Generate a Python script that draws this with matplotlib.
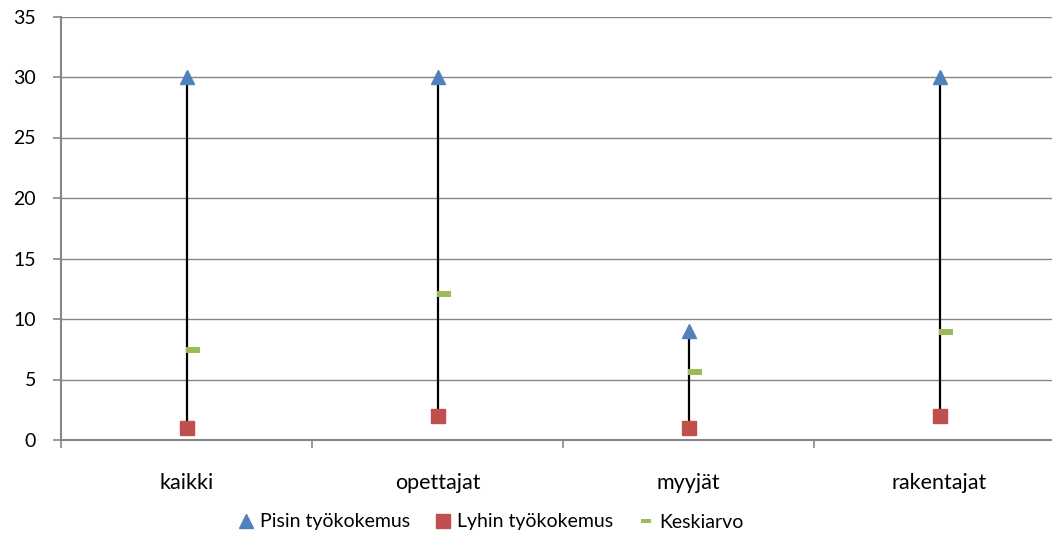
import matplotlib
matplotlib.use("Agg")
import matplotlib.pyplot as plt
from matplotlib.lines import Line2D

# data
categories = ["kaikki", "opettajat", "myyjät", "rakentajat"]
pisin = [30, 30, 9, 30]
lyhin = [1, 2, 1, 2]
keskiarvo = [7.4, 12.1, 5.6, 8.9]

plt.rcParams['font.family'] = ['Lato', 'DejaVu Sans']

fig = plt.figure(figsize=(10.52, 5.37), dpi=100)
ax = fig.add_axes([61 / 1052, 1 - 440 / 537, 1004 / 1052, (440 - 16.5) / 537])

x = list(range(len(categories)))
grey = '#868686'

# vertical high-low lines
for xi, hi, lo in zip(x, pisin, lyhin):
    ax.plot([xi, xi], [lo, hi], color='black', lw=1.6, zorder=2)

dash = [(-0.1, -0.25), (1, -0.25), (1, 0.25), (-0.1, 0.25), (-0.1, -0.25)]
ax.plot(x, pisin, ls='none', marker='^', ms=10, color='#4F81BD', zorder=3)
ax.plot(x, lyhin, ls='none', marker='s', ms=10, color='#C0504D', zorder=3)
ax.plot(x, keskiarvo, ls='none', marker=dash, ms=18, color='#9BBB59',
        markeredgewidth=0, zorder=3)

ax.set_xlim(-0.5, 3.5)
ax.set_ylim(0, 35)
ax.set_yticks(range(0, 36, 5))
ax.grid(axis='y', color=grey, lw=1)
ax.set_axisbelow(True)

ax.set_xticks(x)
ax.set_xticklabels(categories)
ax.set_xticks([-0.5, 0.5, 1.5, 2.5, 3.5], minor=True)
ax.tick_params(axis='x', which='major', length=0, pad=24, labelsize=15.5)
ax.tick_params(axis='x', which='minor', length=6, width=1.2, color=grey)
ax.tick_params(axis='y', length=6, width=1.2, color=grey, pad=12, labelsize=14)

for side in ['top', 'right']:
    ax.spines[side].set_visible(False)
for side in ['left', 'bottom']:
    ax.spines[side].set_color(grey)
    ax.spines[side].set_linewidth(1.5)

handles = [
    Line2D([], [], ls='none', marker='^', ms=10, color='#4F81BD'),
    Line2D([], [], ls='none', marker='s', ms=10, color='#C0504D'),
    Line2D([], [], ls='none', marker=[(-1, -0.35), (1, -0.35), (1, 0.35), (-1, 0.35), (-1, -0.35)],
           ms=7, color='#9BBB59', markeredgewidth=0),
]
fig.legend(handles, ["Pisin työkokemus", "Lyhin työkokemus", "Keskiarvo"],
           loc='center', bbox_to_anchor=(491 / 1052, 1 - 522 / 537), ncol=3, frameon=False,
           fontsize=14, handlelength=0.8, handletextpad=0.3, columnspacing=1.3)

fig.savefig("out.png", dpi=100)
